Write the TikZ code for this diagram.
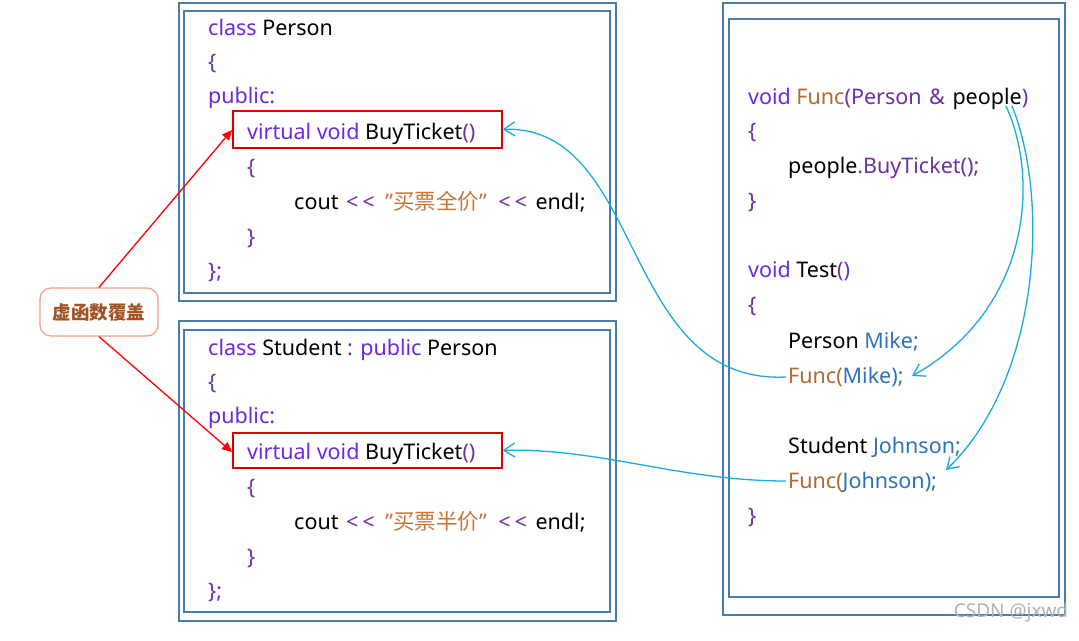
\documentclass[tikz,border=0pt]{standalone}
\usepackage{fontspec}
\setmainfont{Noto Sans}
\newfontfamily\cjk{Noto Sans CJK SC}
\usetikzlibrary{arrows.meta}
\definecolor{boxc}{RGB}{70,125,170}
\definecolor{kw}{RGB}{110,40,225}
\definecolor{pu}{RGB}{112,48,160}
\definecolor{str}{RGB}{200,118,55}
\definecolor{fn}{RGB}{180,105,50}
\definecolor{bl}{RGB}{46,116,181}
\definecolor{arr}{RGB}{26,170,225}
\definecolor{lbl}{RGB}{240,160,130}
\definecolor{lbt}{RGB}{160,82,35}
\newcommand{\cK}[1]{\textcolor{kw}{#1}}
\newcommand{\cP}[1]{\textcolor{pu}{#1}}
\newcommand{\cS}[1]{\textcolor{str}{#1}}
\newcommand{\cF}[1]{\textcolor{fn}{#1}}
\newcommand{\cB}[1]{\textcolor{bl}{#1}}
\newcommand{\qq}{\char"22\relax}
\newcommand{\shl}{\cP{<\hspace{4pt}<}}
\begin{document}
\begin{tikzpicture}[x=1pt,y=-1pt,
  code/.style={anchor=base west, inner sep=0pt, font=\fontsize{21.5}{24}\selectfont},
  frame/.style={draw=boxc, line width=2pt},
  redbox/.style={draw=red!85!black, line width=1.6pt, fill=none},
  blue arrow/.style={draw=arr, line width=1.3pt, -{Straight Barb[length=11pt,width=14pt,line width=1.3pt]}},
  red arrow/.style={draw=red, line width=1.3pt, -{Triangle[length=10pt,width=9pt]}}]
\useasboundingbox (0,0) rectangle (1079,640);
\fill[white] (0,0) rectangle (1079,640);
% frames
\draw[frame] (179,3) rectangle (616,301);
\draw[frame] (184,11) rectangle (610,293);
\draw[frame] (179,321) rectangle (616,621);
\draw[frame] (184,330) rectangle (610,612);
\draw[frame] (723,3) rectangle (1065,615);
\draw[frame] (729,19) rectangle (1059,597);
% red boxes
\node[redbox, minimum width=269pt, minimum height=37pt, anchor=north west, inner sep=0pt] (rb1) at (232,110) {};
\node[redbox, minimum width=269pt, minimum height=35pt, anchor=north west, inner sep=0pt] (rb2) at (232,432) {};
% Person class
\node[code] (p1) at (208,35) {\cK{class} Person};
\node[code] (p2) at (208,69) {\cP{\{}};
\node[code] (p3) at (208,103) {\cK{public:}};
\node[code] (p4) at (247,139) {\cK{virtual void} BuyTicket\cP{()}};
\node[code] (p5) at (247,174) {\cP{\{}};
\node[code] (p6) at (294,209) {cout\hspace{2pt} \shl\hspace{5pt} \cS{\qq{\cjk 买票全价}\qq}\hspace{6pt} \shl\hspace{3pt} endl;};
\node[code] (p7) at (247,244) {\cP{\}}};
\node[code] (p8) at (208,278) {\cP{\};}};
% Student class
\node[code] (s1) at (208,355) {\cK{class} Student \cP{:} \cK{public} Person};
\node[code] (s2) at (208,389) {\cP{\{}};
\node[code] (s3) at (208,423) {\cK{public:}};
\node[code] (s4) at (247,459) {\cK{virtual void} BuyTicket\cP{()}};
\node[code] (s5) at (247,494) {\cP{\{}};
\node[code] (s6) at (294,529) {cout\hspace{2pt} \shl\hspace{5pt} \cS{\qq{\cjk 买票半价}\qq}\hspace{6pt} \shl\hspace{3pt} endl;};
\node[code] (s7) at (247,564) {\cP{\}}};
\node[code] (s8) at (208,598) {\cP{\};}};
% right code
\node[code] (f1) at (748,104) {\cK{void} \cF{Func}\cP{(Person\hspace{2pt} \&\hspace{2pt} }people\cP{)}};
\node[code] (f2) at (748,138) {\cP{\{}};
\node[code] (f3) at (788,173) {people\cP{.BuyTicket();}};
\node[code] (f4) at (748,208) {\cP{\}}};
\node[code] (t1) at (748,277) {\cK{void} Test\cP{()}};
\node[code] (t2) at (748,312) {\cP{\{}};
\node[code] (t3) at (788,348) {Person \cB{Mike;}};
\node[code] (t4) at (788,383) {\cF{Func(}\cB{Mike);}};
\node[code] (t5) at (788,453) {Student \cB{Johnson;}};
\node[code] (t6) at (788,488) {\cF{Func(}\cB{Johnson);}};
\node[code] (t7) at (748,523) {\cP{\}}};
% label
\node[draw=lbl, line width=1.2pt, rounded corners=11pt, minimum width=118pt, minimum height=48pt, inner sep=0pt, text=lbt, font=\fontsize{18.5}{20}\selectfont\cjk\bfseries] (lab) at (99,312) {虚函数覆盖};
% red arrows
\draw[red arrow] (lab.north) -- (rb1.west |- 0,130);
\draw[red arrow] (lab.south) -- (rb2.west |- 0,452);
% blue arrows
\coordinate (m) at (786,377);
\coordinate (j) at (786,481);
\draw[blue arrow] (m) .. controls (620,385) and (645,125) .. (rb1.east);
\draw[blue arrow] (j) .. controls (680,481) and (600,448) .. (rb2.east);
\coordinate (pp1) at (1006,106);
\coordinate (pp2) at (1012,106);
\draw[blue arrow] (pp1) .. controls (1040,180) and (1030,310) .. (912,376);
\draw[blue arrow] (pp2) .. controls (1050,200) and (1040,380) .. (946,470);
% watermark
\node[inner sep=0pt, text=gray!60, font=\fontsize{19}{21}\selectfont] (wm) at (1011,613) {CSDN @jxwd};
\end{tikzpicture}
\end{document}
